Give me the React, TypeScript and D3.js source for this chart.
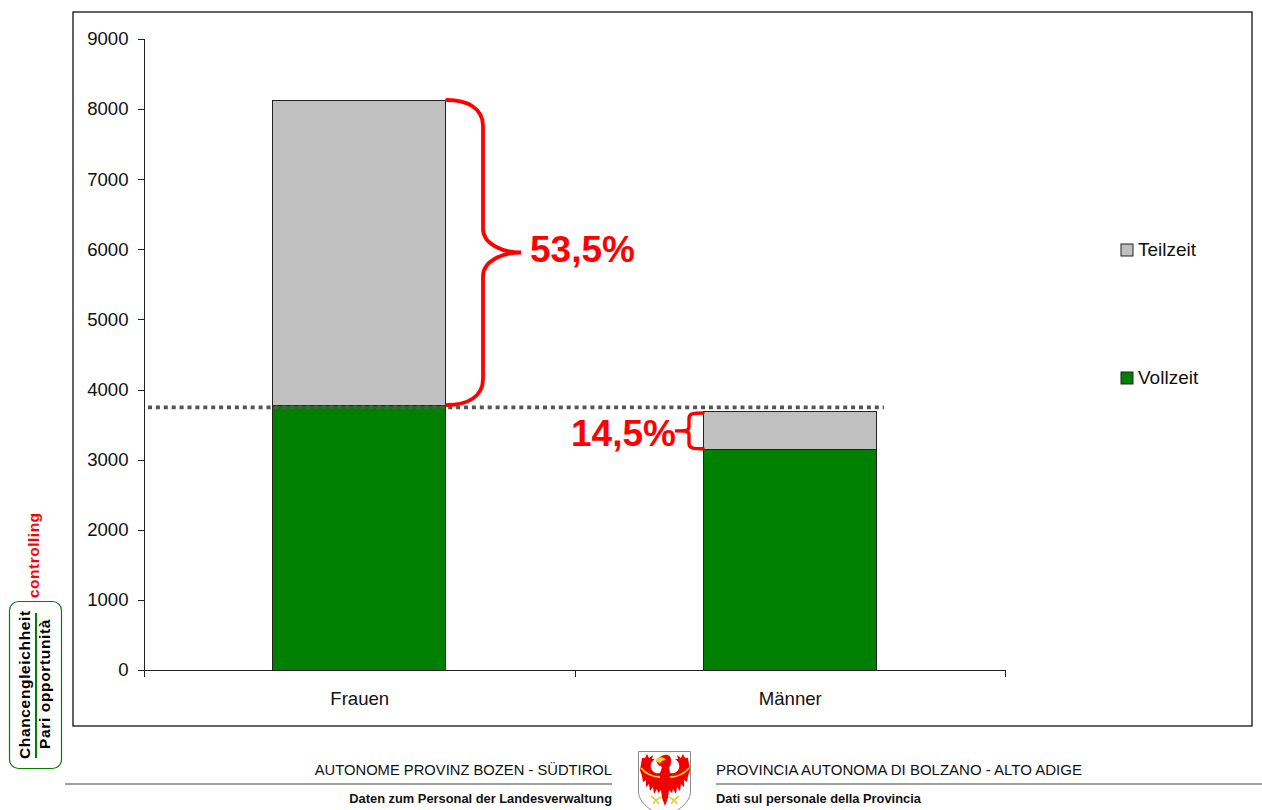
import React from "react";
import * as d3 from "d3";

const categories = ["Frauen", "Männer"];
const vollzeit = [3780, 3155];
const teilzeit = [4350, 540];
const yTicks = [0, 1000, 2000, 3000, 4000, 5000, 6000, 7000, 8000, 9000];
const referenceLine = 3745;
const shareLabels = ["53,5%", "14,5%"];
const legendItems = [
  { name: "Teilzeit", color: "#c0c0c0" },
  { name: "Vollzeit", color: "#008000" },
];

const W = 1262;
const H = 810;
const FONT = "'Liberation Sans', Arial, sans-serif";

const y = d3.scaleLinear().domain([0, 9000]).range([670, 39]);
const x = d3.scaleBand<string>().domain(categories).range([144, 1005]).paddingInner(0.597).paddingOuter(0.2985);

const rows = categories.map((c, i) => ({ c, Vollzeit: vollzeit[i], Teilzeit: teilzeit[i] }));
const stack = d3.stack<any>().keys(["Vollzeit", "Teilzeit"])(rows);
const colorOf = (k: string) => legendItems.find((l) => l.name === k)!.color;

function bigBrace(xs: number, xm: number, xt: number, y0: number, y1: number) {
  const p = d3.path();
  const ym = (y0 + y1) / 2;
  p.moveTo(xs, y0);
  p.bezierCurveTo(xs + 20, y0, xm, y0 + 8, xm, y0 + 26);
  p.lineTo(xm, ym - 24);
  p.bezierCurveTo(xm, ym - 8, xt - 18, ym, xt, ym);
  p.bezierCurveTo(xt - 18, ym, xm, ym + 8, xm, ym + 24);
  p.lineTo(xm, y1 - 26);
  p.bezierCurveTo(xm, y1 - 8, xs + 20, y1, xs, y1);
  return p.toString();
}

function smallBrace(xs: number, xm: number, xt: number, y0: number, y1: number) {
  const p = d3.path();
  const ym = (y0 + y1) / 2;
  p.moveTo(xs, y0);
  p.bezierCurveTo(xs - 8, y0, xm, y0, xm, y0 + 5);
  p.lineTo(xm, ym - 4);
  p.bezierCurveTo(xm, ym, xm - 3, ym, xt, ym);
  p.bezierCurveTo(xm - 3, ym, xm, ym, xm, ym + 4);
  p.lineTo(xm, y1 - 5);
  p.bezierCurveTo(xm, y1, xs - 8, y1, xs, y1);
  return p.toString();
}

const HALF_EAGLE =
  "M27,13 L22,22 C18,23 14,21 13,17 C12,13 14,10 17,8 L14,8 L15,4 L11,7 L9,3 L7,7 L4,7 L3,13 L2,19 L4,25 L5,31 L8,29 L8,36 L11,33 L12,40 L15,36 L16,43 L19,38 L20,42 L23,39 L24,47 L27,55 Z";

function Crest() {
  const red = "#f20000";
  const gold = "#f2d516";
  return (
    <g transform="translate(638,751)">
      <path d="M0.5,0.5 H52.5 V40 C52.5,52 40,60 26.5,66 C13,60 0.5,52 0.5,40 Z" fill="#fff" stroke="#8a8a8a" strokeWidth={1} />
      <path d={HALF_EAGLE} fill={red} />
      <path d={HALF_EAGLE} fill={red} transform="translate(54,0) scale(-1,1)" />
      <path d="M19,12 C20,6 25,3 30,4 C34,6 34,12 31,17 L33,26 L21,26 L24,16 C22,15 20,14 19,12 Z" fill={red} />
      <path d="M18,11 C18,7 22,5 26,7 L28,9 C25,9 23,10 22,13 C21,11 20,11 18,11 Z" fill={gold} stroke="#a8921a" strokeWidth={0.4} />
      <path d="M3,17 C9,24 15,26 22,26" fill="none" stroke={gold} strokeWidth={1.8} />
      <path d="M51,17 C45,24 39,26 32,26" fill="none" stroke={gold} strokeWidth={1.8} />
      <path d="M13,45 L18,49 L23,46 M18,49 L15,53 M18,49 L21,53" fill="none" stroke="#dcd040" strokeWidth={1.7} />
      <path d="M41,45 L36,49 L31,46 M36,49 L39,53 M36,49 L33,53" fill="none" stroke="#dcd040" strokeWidth={1.7} />
    </g>
  );
}

export default function App() {
  const bandW = x.bandwidth();
  const totals = categories.map((_, i) => vollzeit[i] + teilzeit[i]);
  const xF = x(categories[0])!;
  const xM = x(categories[1])!;
  return (
    <svg width={W} height={H} style={{ position: "absolute", left: 0, top: 0, display: "block" }} fontFamily={FONT}>
      <rect width={W} height={H} fill="#fff" />
      <rect x={73} y={12} width={1179} height={714} fill="#fff" stroke="#111" strokeWidth={1.3} />

      {/* y axis */}
      <line x1={144.5} x2={144.5} y1={y(9000)} y2={y(0)} stroke="#222" />
      {yTicks.map((t) => (
        <g key={t}>
          <line x1={138} x2={144} y1={Math.round(y(t)) + 0.5} y2={Math.round(y(t)) + 0.5} stroke="#222" />
          <text x={128.5} y={y(t) + 6.3} textAnchor="end" fontSize={18.6} fill="#111">{t}</text>
        </g>
      ))}

      {/* bars */}
      {stack.map((s) =>
        s.map((d, i) => (
          <rect
            key={s.key + i}
            x={Math.floor(x(categories[i])!) + 0.5}
            y={Math.round(y(d[1])) + 0.5}
            width={Math.round(bandW - 0.6)}
            height={Math.round(y(d[0])) - Math.round(y(d[1]))}
            fill={colorOf(s.key)}
            stroke="#222"
            strokeWidth={1}
          />
        ))
      )}

      {/* x axis */}
      <line x1={144} x2={1005} y1={670.5} y2={670.5} stroke="#222" />
      {[144, 575, 1005].map((px) => (
        <line key={px} x1={px + 0.5} x2={px + 0.5} y1={670} y2={677} stroke="#222" />
      ))}
      {categories.map((c) => (
        <text key={c} x={x(c)! + bandW / 2 + 0.5} y={705} textAnchor="middle" fontSize={18.6} fill="#111">{c}</text>
      ))}

      {/* reference line */}
      <line x1={148} x2={884} y1={y(referenceLine)} y2={y(referenceLine)} stroke="#555" strokeWidth={3.8} strokeDasharray="4 3.9" />

      {/* braces */}
      <path d={bigBrace(xF + bandW + 1, 483, 521, y(totals[0]), y(vollzeit[0]))} fill="none" stroke="#f00" strokeWidth={3.8} strokeLinecap="round" />
      <text x={530} y={262} fontSize={37} fontWeight="bold" fill="#f00">{shareLabels[0]}</text>
      <path d={smallBrace(xM, 689, 675, y(totals[1]) + 2, y(vollzeit[1]))} fill="none" stroke="#f00" strokeWidth={3.4} strokeLinecap="round" />
      <text x={571} y={446} fontSize={37} fontWeight="bold" fill="#f00">{shareLabels[1]}</text>

      {/* legend */}
      {legendItems.map((l, i) => (
        <g key={l.name}>
          <rect x={1121} y={244 + i * 128} width={12} height={12} fill={l.color} stroke="#222" />
          <text x={1138} y={256 + i * 128} fontSize={19} fill="#111">{l.name}</text>
        </g>
      ))}

      {/* badge */}
      <rect x={9.5} y={601.5} width={52} height={167} rx={9} fill="#fff" stroke="#008000" strokeWidth={1.2} />
      <line x1={36} x2={36} y1={613} y2={758} stroke="#008000" strokeWidth={2} />
      <text transform="translate(30,759) rotate(-90)" fontSize={15.5} fontWeight="bold" letterSpacing={0.65} fill="#000">Chancengleichheit</text>
      <text transform="translate(50,749) rotate(-90)" fontSize={15.5} fontWeight="bold" letterSpacing={0.65} fill="#000">Pari opportunità</text>
      <text transform="translate(39,598) rotate(-90)" fontSize={15.5} fontWeight="bold" letterSpacing={0.5} fill="#f00">controlling</text>

      {/* footer */}
      <line x1={65} x2={612} y1={784} y2={784} stroke="#808080" strokeWidth={1.6} />
      <line x1={716} x2={1262} y1={784} y2={784} stroke="#808080" strokeWidth={1.6} />
      <text x={612} y={775} textAnchor="end" fontSize={14.75} fill="#111">AUTONOME PROVINZ BOZEN - SÜDTIROL</text>
      <text x={716} y={775} fontSize={15} fill="#111">PROVINCIA AUTONOMA DI BOLZANO - ALTO ADIGE</text>
      <text x={612} y={803} textAnchor="end" fontSize={12.85} fontWeight="bold" fill="#111">Daten zum Personal der Landesverwaltung</text>
      <text x={716} y={803} fontSize={12.85} fontWeight="bold" fill="#111">Dati sul personale della Provincia</text>
      <Crest />
    </svg>
  );
}
